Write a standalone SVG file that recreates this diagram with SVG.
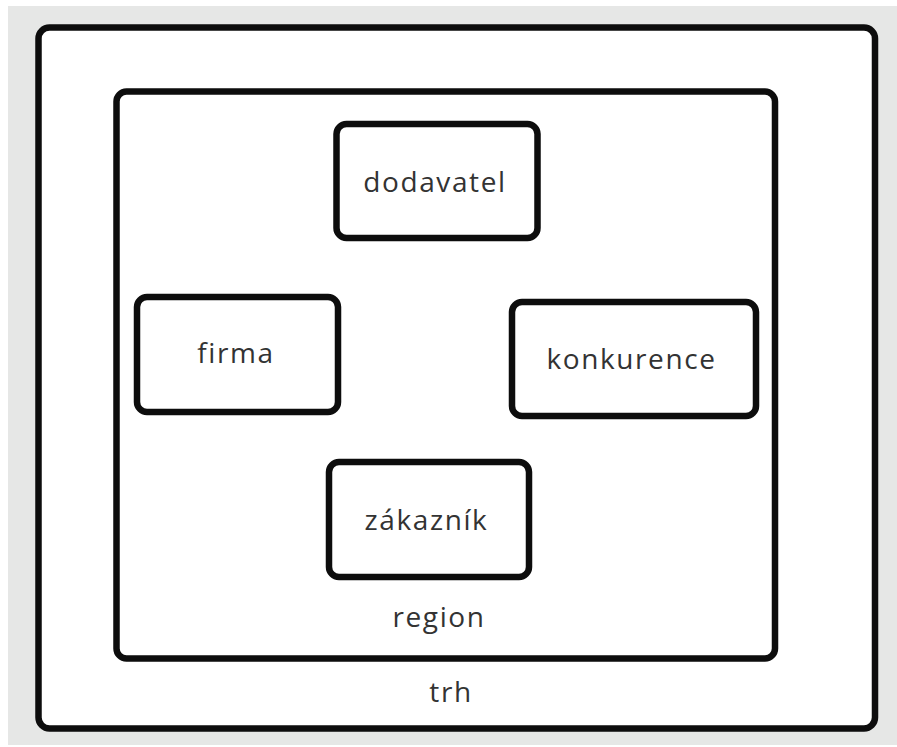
<svg xmlns="http://www.w3.org/2000/svg" width="897" height="747" viewBox="0 0 897 747">
<style>
.box{fill:#ffffff;stroke:#0d0d0d;stroke-width:6.5}
.lbl{font-family:"Open Sans","Noto Sans",sans-serif;font-size:28px;letter-spacing:1.6px;fill:#333333;text-anchor:middle}
</style>
<rect x="0" y="0" width="897" height="747" fill="#ffffff"/>
<rect x="8" y="6" width="889" height="739" fill="#e6e7e6"/>
<g id="trh">
<rect class="box" x="38.5" y="27.5" width="836.5" height="701" rx="11"/>
<text class="lbl" x="451" y="702">trh</text>
</g>
<g id="region">
<rect class="box" x="116.5" y="91.5" width="658.5" height="567" rx="10"/>
<text class="lbl" x="439" y="627">region</text>
</g>
<g id="dodavatel">
<rect class="box" x="336.5" y="124" width="201" height="114" rx="10"/>
<text class="lbl" x="435" y="192">dodavatel</text>
</g>
<g id="firma">
<rect class="box" x="137" y="297" width="201" height="115" rx="10"/>
<text class="lbl" x="236" y="363">firma</text>
</g>
<g id="konkurence">
<rect class="box" x="512" y="302" width="244" height="114" rx="10"/>
<text class="lbl" x="631.5" y="369">konkurence</text>
</g>
<g id="zakaznik">
<rect class="box" x="329" y="462" width="200" height="115" rx="10"/>
<text class="lbl" x="426.5" y="530">zákazník</text>
</g>
<g id="connectors"></g>
</svg>
